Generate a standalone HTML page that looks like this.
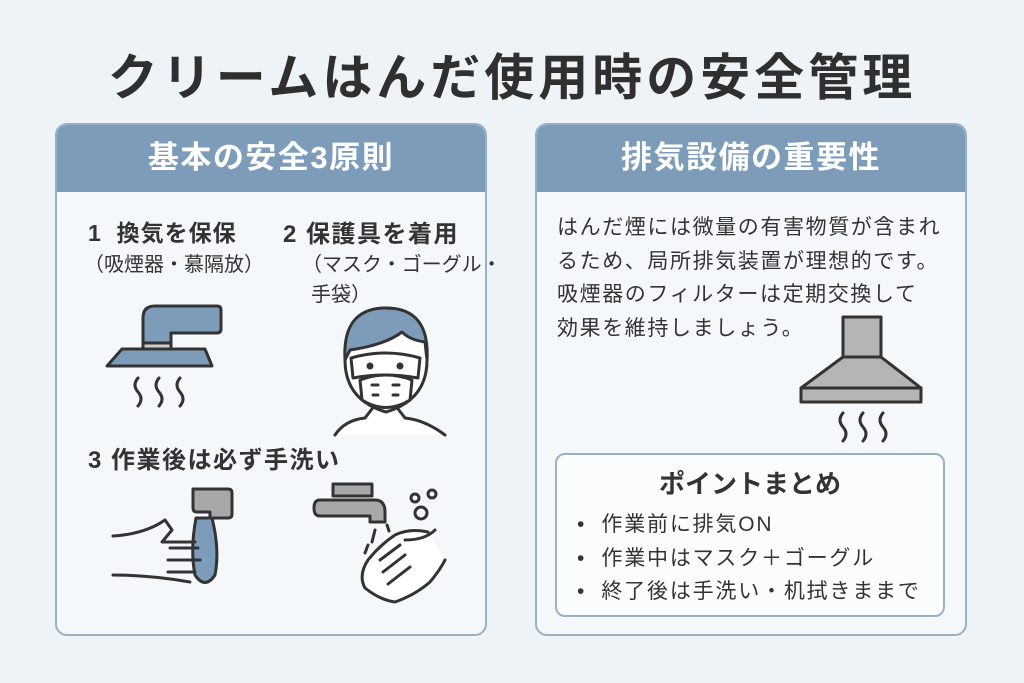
<!DOCTYPE html>
<html><head><meta charset="utf-8"><style>
body{margin:0;width:1024px;height:683px;background:#eef3f8;font-family:"Liberation Sans","Noto Sans CJK JP",sans-serif;color:#333;position:relative;overflow:hidden}
.t{position:absolute;white-space:nowrap}
.panel{position:absolute;top:123px;width:432px;height:513px;background:#f5f8fb;border:2px solid #9ab0c4;border-radius:12px;overflow:hidden;box-sizing:border-box}
.hd{height:67px;background:#7d9cb9;color:#fff;font-size:31px;font-weight:bold;text-align:center;line-height:66px;letter-spacing:1.5px}
</style></head><body>
<div class="t" style="left:0;width:1024px;text-align:center;top:38px;font-size:50px;font-weight:bold;color:#2f2f2f;letter-spacing:4px">クリームはんだ使用時の安全管理</div>
<div class="panel" style="left:55px"><div class="hd">基本の安全3原則</div></div>
<div class="panel" style="left:535px"><div class="hd">排気設備の重要性</div></div>

<div class="t" style="left:88px;top:214px;font-size:23px;font-weight:bold;letter-spacing:1px">1&nbsp; 換気を保保</div>
<div class="t" style="left:84px;top:248px;font-size:20px">（吸煙器・慕隔放）</div>
<div class="t" style="left:283px;top:214px;font-size:24px;font-weight:bold;letter-spacing:1.5px">2 保護具を着用</div>
<div class="t" style="left:302px;top:248px;font-size:20px">（マスク・ゴーグル・</div>
<div class="t" style="left:311px;top:278px;font-size:20px">手袋）</div>
<div class="t" style="left:88px;top:440px;font-size:24px;font-weight:bold;letter-spacing:1.5px">3 作業後は必ず手洗い</div>

<div class="t" style="left:557px;top:211px;font-size:21px;line-height:33.5px;letter-spacing:1.6px">はんだ煙には微量の有害物質が含まれ<br>るため、局所排気装置が理想的です。<br>吸煙器のフィルターは定期交換して<br>効果を維持しましょう。</div>

<div style="position:absolute;left:555px;top:453px;width:390px;height:164px;border:2px solid #9ab0c4;border-radius:10px;background:#fbfcfe;box-sizing:border-box"></div>
<div class="t" style="left:555px;width:390px;text-align:center;top:464px;font-size:26px;font-weight:bold">ポイントまとめ</div>
<div class="t" style="left:577px;top:508px;font-size:21px;line-height:33.5px;letter-spacing:1.8px">•&nbsp; 作業前に排気ON<br>•&nbsp; 作業中はマスク＋ゴーグル<br>•&nbsp; 終了後は手洗い・机拭きままで</div>

<svg width="1024" height="683" style="position:absolute;left:0;top:0" fill="none" stroke="#333" stroke-width="3" stroke-linecap="round" stroke-linejoin="round">
<path d="M143 346 V318 Q143 306 155 306 H217 Q221 306 221 310 V329 Q221 333 217 333 H171 V346 Z" fill="#7d9cb9"/>
<rect x="143" y="343" width="28" height="6" fill="#ccc"/>
<path d="M122 349 H205 L212 366 H107 Z" fill="#7d9cb9"/>
<path d="M138 378 q-6 7 0 14 q6 7 0 14 M159 378 q-6 7 0 14 q6 7 0 14 M180 378 q-6 7 0 14 q6 7 0 14"/>
<path d="M335 435 Q345 420 365 418 L375 405 H395 L405 418 Q425 420 445 435" fill="#fff"/>
<path d="M345 360 Q345 308 385 308 Q428 308 427 360 Q427 400 386 412 Q345 400 345 360Z" fill="#fff"/>
<path d="M345 360 Q342 308 386 308 Q430 308 427 360 L425 342 Q410 340 402 332 Q385 345 350 350Z" fill="#7d9cb9"/>
<path d="M351 358 Q386 348 420 358 L418 378 Q386 372 353 378 Z" fill="#fff"/>
<circle cx="370" cy="366" r="2" fill="#333"/><circle cx="400" cy="366" r="2" fill="#333"/>
<path d="M360 380 Q386 370 412 380 L410 400 Q386 415 362 400Z" fill="#fff"/>
<path d="M372 385h6M393 385h6M373 395h5M393 395h5"/>
<rect x="843" y="317" width="38" height="40" fill="#b5b5b5"/>
<path d="M843 357 H881 L921 388 H801 Z" fill="#b5b5b5"/>
<rect x="801" y="388" width="120" height="14" fill="#b5b5b5"/>
<path d="M843 413 q-6 7 0 14 q6 7 0 14 M863 413 q-6 7 0 14 q6 7 0 14 M883 413 q-6 7 0 14 q6 7 0 14"/>
<path d="M193 489 V508 Q193 512 197 512 H210 V518 H228 Q232 518 232 514 V493 Q232 489 228 489Z" fill="#a8a8a8"/>
<path d="M196 518 Q190 550 195 575 Q205 590 215 575 Q220 550 212 518Z" fill="#7d9cb9"/>
<path d="M113 536 Q145 534 165 520 L172 530 L162 542 H195 M113 575 Q150 575 190 582 M170 548 H198 M168 560 H200 M168 572 H195"/>
<path d="M333 484 H372 V496 H333Z" fill="#a8a8a8"/>
<path d="M320 500 H375 Q385 500 385 512 V522 H370 V516 H320 Q314 516 314 508 Q314 500 320 500Z" fill="#a8a8a8"/>
<circle cx="415" cy="498" r="4"/><circle cx="432" cy="494" r="4"/><circle cx="421" cy="513" r="6"/>
<path d="M375 530 l-3 12 M368 545 l-3 8 M387 525 l2 6"/>
<path d="M428 532 Q410 528 395 535 Q380 545 368 560 Q358 575 365 588 Q380 600 395 602 Q415 595 430 582 Q440 570 445 560 M380 560 L400 545 M383 572 L405 555 M388 584 L410 567 M405 540 Q425 540 435 530" fill="#fff"/>
</svg>
</body></html>
